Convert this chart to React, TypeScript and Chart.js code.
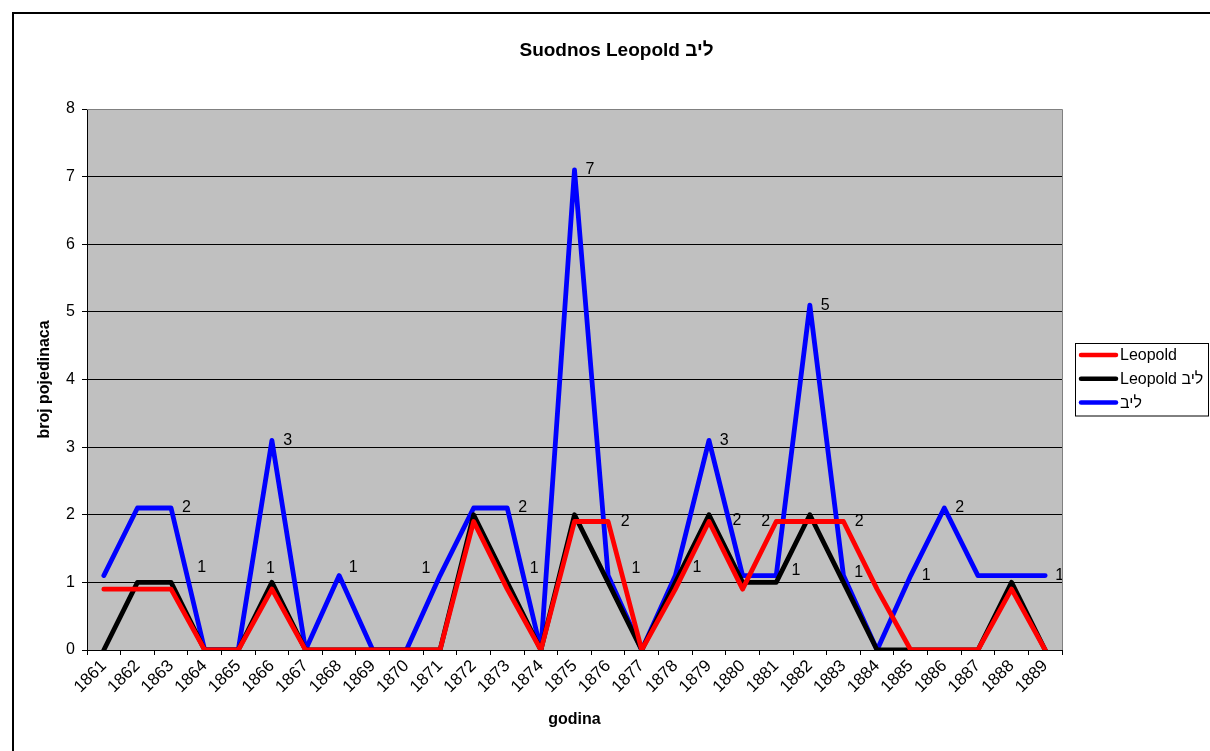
import React, { useEffect, useRef } from 'react';
import { Chart, registerables } from 'chart.js';

Chart.register(...registerables);

const FONT = '"Liberation Sans", Arial, sans-serif';

const chartTitle = 'Suodnos Leopold ליב';
const xTitle = 'godina';
const yTitle = 'broj pojedinaca';

const years = [
  '1861', '1862', '1863', '1864', '1865', '1866', '1867', '1868', '1869', '1870',
  '1871', '1872', '1873', '1874', '1875', '1876', '1877', '1878', '1879', '1880',
  '1881', '1882', '1883', '1884', '1885', '1886', '1887', '1888', '1889',
];

const seriesNames = ['Leopold', 'Leopold ליב', 'ליב'];
const seriesColors = ['#FF0000', '#000000', '#0000FF'];

const leopold = [
  0.9, 0.9, 0.9, 0, 0, 0.9, 0, 0, 0, 0,
  0, 1.9, 0.9, 0, 1.9, 1.9, 0, 0.9, 1.9, 0.9,
  1.9, 1.9, 1.9, 0.9, 0, 0, 0, 0.9, 0,
];
const leopoldLiv = [
  0, 1, 1, 0, 0, 1, 0, 0, 0, 0,
  0, 2, 1, 0, 2, 1, 0, 1, 2, 1,
  1, 2, 1, 0, 0, 0, 0, 1, 0,
];
const liv = [
  1.1, 2.1, 2.1, 0, 0, 3.1, 0, 1.1, 0, 0,
  1.1, 2.1, 2.1, 0, 7.1, 1.1, 0, 1.1, 3.1, 1.1,
  1.1, 5.1, 1.1, 0, 1.1, 2.1, 1.1, 1.1, 1.1,
];

const yTicks = [0, 1, 2, 3, 4, 5, 6, 7, 8];

// data labels: category position (index), value, text
const labelPos = [
  2.46, 2.91, 5.47, 4.96, 7.42, 9.58, 12.46, 12.8, 14.46, 15.51, 15.83,
  17.64, 18.45, 18.83, 19.69, 20.59, 21.46, 22.47, 22.45, 24.46, 25.46, 28.43,
];
const labelVal = [
  2.1, 1.22, 3.1, 1.21, 1.22, 1.2, 2.1, 1.2, 7.1, 1.9, 1.2,
  1.22, 3.1, 1.92, 1.9, 1.18, 5.1, 1.9, 1.15, 1.1, 2.1, 1.1,
];
const labelText = [
  '2', '1', '3', '1', '1', '1', '2', '1', '7', '2', '1',
  '1', '3', '2', '2', '1', '5', '2', '1', '1', '2', '1',
];

export default function App() {
  const ref = useRef<HTMLCanvasElement>(null);

  useEffect(() => {
    const canvas = ref.current;
    if (!canvas) return;

    const overlay = {
      id: 'overlay',
      beforeDraw(chart: any) {
        const { ctx, chartArea: a } = chart;
        ctx.save();
        ctx.fillStyle = '#FFFFFF';
        ctx.fillRect(0, 0, chart.width, chart.height);
        ctx.fillStyle = '#C0C0C0';
        ctx.fillRect(a.left, a.top, a.right - a.left, a.bottom - a.top);
        ctx.restore();
      },
      afterDatasetsDraw(chart: any) {
        const { ctx, chartArea: a } = chart;
        const xs = chart.scales.x;
        const ys = chart.scales.y;
        ctx.save();
        ctx.beginPath();
        ctx.rect(a.left, a.top, a.right - a.left, a.bottom - a.top);
        ctx.clip();
        ctx.fillStyle = '#000000';
        ctx.font = `16px ${FONT}`;
        ctx.textAlign = 'center';
        ctx.textBaseline = 'middle';
        for (let i = 0; i < labelText.length; i++) {
          ctx.fillText(labelText[i], xs.getPixelForValue(labelPos[i]), ys.getPixelForValue(labelVal[i]));
        }
        ctx.restore();
      },
      afterDraw(chart: any) {
        const { ctx, chartArea: a } = chart;
        ctx.save();
        // plot area border top/right
        ctx.strokeStyle = '#808080';
        ctx.lineWidth = 1;
        ctx.beginPath();
        ctx.moveTo(a.left, Math.round(a.top) + 0.5);
        ctx.lineTo(Math.round(a.right) + 0.5, Math.round(a.top) + 0.5);
        ctx.lineTo(Math.round(a.right) + 0.5, a.bottom);
        ctx.stroke();

        // outer chart border
        ctx.strokeStyle = '#000000';
        ctx.lineWidth = 2;
        ctx.strokeRect(13, 13, 1400, 1000);

        // title
        ctx.fillStyle = '#000000';
        ctx.font = `bold 19px ${FONT}`;
        ctx.textAlign = 'center';
        ctx.textBaseline = 'middle';
        ctx.fillText(chartTitle, 616.5, 51);

        // axis titles
        ctx.font = `bold 16px ${FONT}`;
        ctx.fillText(xTitle, (a.left + a.right) / 2, 720);
        ctx.save();
        ctx.translate(45, (a.top + a.bottom) / 2);
        ctx.rotate(-Math.PI / 2);
        ctx.fillText(yTitle, 0, 0);
        ctx.restore();

        // legend
        ctx.fillStyle = '#FFFFFF';
        ctx.fillRect(1075.5, 343.5, 133, 72.5);
        ctx.strokeStyle = '#000000';
        ctx.lineWidth = 1;
        ctx.strokeRect(1075.5, 343.5, 133, 72.5);
        ctx.font = `16px ${FONT}`;
        ctx.textAlign = 'left';
        for (let i = 0; i < seriesNames.length; i++) {
          const y = 355 + i * 23.7;
          ctx.strokeStyle = seriesColors[i];
          ctx.lineWidth = 4.5;
          ctx.lineCap = 'round';
          ctx.beginPath();
          ctx.moveTo(1081, y);
          ctx.lineTo(1116, y);
          ctx.stroke();
          ctx.fillStyle = '#000000';
          ctx.fillText(seriesNames[i], 1120, y + 1);
        }
        ctx.restore();
      },
    };

    const mk = (i: number, data: number[]) => ({
      label: seriesNames[i],
      data,
      borderColor: seriesColors[i],
      backgroundColor: seriesColors[i],
      borderWidth: 4.8,
      pointRadius: 0,
      pointHoverRadius: 0,
      tension: 0,
      borderCapStyle: 'round',
      borderJoinStyle: 'round',
      fill: false,
    });

    const chart = new Chart(canvas, {
      type: 'line',
      data: {
        labels: years,
        datasets: [mk(0, leopold), mk(1, leopoldLiv), mk(2, liv)],
      },
      plugins: [overlay],
      options: {
        responsive: false,
        animation: false,
        events: [],
        layout: { padding: { left: 0, top: 109, right: 148, bottom: 0 } },
        plugins: {
          legend: { display: false },
          title: { display: false },
          tooltip: { enabled: false },
        },
        scales: {
          x: {
            type: 'category',
            offset: true,
            afterFit: (s: any) => { s.height = 101; },
            grid: {
              offset: true,
              drawOnChartArea: false,
              drawTicks: true,
              tickLength: 5,
              tickColor: '#000000',
              color: '#000000',
            },
            border: { display: true, color: '#000000', width: 1 },
            ticks: {
              autoSkip: false,
              minRotation: 45,
              maxRotation: 45,
              color: '#000000',
              padding: 1,
              font: { family: FONT, size: 17 },
            },
          },
          y: {
            min: 0,
            max: 8,
            afterFit: (s: any) => { s.width = 87; },
            afterBuildTicks: (s: any) => { s.ticks = yTicks.map((v) => ({ value: v })); },
            grid: {
              drawOnChartArea: true,
              drawTicks: true,
              tickLength: 5,
              tickColor: '#000000',
              color: (c: any) => (c.tick && c.tick.value === 8 ? '#808080' : '#000000'),
              lineWidth: 1,
            },
            border: { display: true, color: '#000000', width: 1 },
            ticks: {
              color: '#000000',
              padding: 7,
              font: { family: FONT, size: 16 },
            },
          },
        },
      } as any,
    });

    return () => chart.destroy();
  }, []);

  return (
    <div style={{ position: 'absolute', left: 0, top: 0, width: 1210, height: 751 }}>
      <canvas ref={ref} width={1210} height={751} style={{ display: 'block', width: 1210, height: 751 }} />
    </div>
  );
}
